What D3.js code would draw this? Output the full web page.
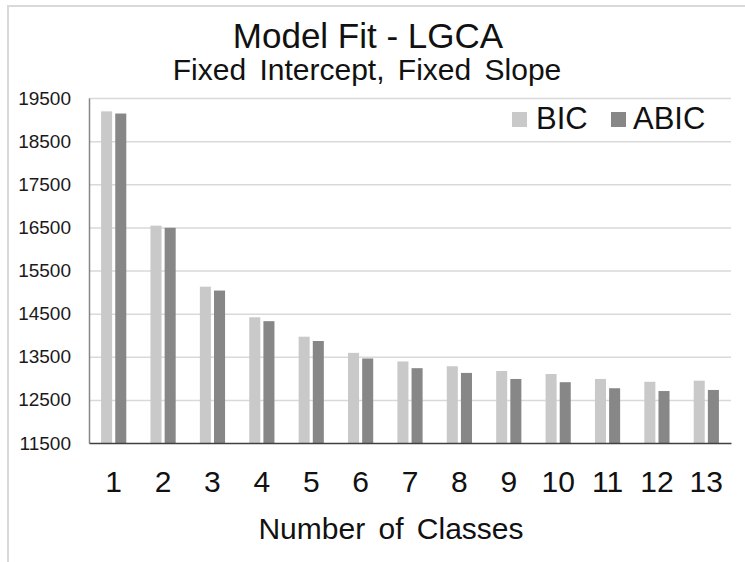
<!DOCTYPE html>
<html>
<head>
<meta charset="utf-8">
<script src="https://cdn.jsdelivr.net/npm/d3@7"></script>
<style>
  html, body { margin: 0; padding: 0; background: #fff; }
  svg { display: block; font-family: "Liberation Sans", Arial, sans-serif; }
</style>
</head>
<body>
<svg id="chart" width="745" height="562"></svg>
<script>
// Information criteria by number of latent classes
const classes = ["1", "2", "3", "4", "5", "6", "7", "8", "9", "10", "11", "12", "13"];
const bic  = [19190, 16540, 15125, 14415, 13965, 13590, 13390, 13280, 13170, 13100, 12985, 12920, 12945];
const abic = [19140, 16490, 15035, 14325, 13865, 13460, 13235, 13125, 12985, 12910, 12770, 12705, 12730];
const seriesNames = ["BIC", "ABIC"];
const seriesColors = ["#c9c9c9", "#878787"];
const yTicks = [11500, 12500, 13500, 14500, 15500, 16500, 17500, 18500, 19500];

const svg = d3.select("#chart");
const W = 745, H = 562;
const plot = { left: 89, right: 731, top: 98, bottom: 443 };

// chart-area frame (top and left edges visible)
svg.append("path")
  .attr("d", `M8,${H} L8,6 L${W},6`)
  .attr("fill", "none").attr("stroke", "#d9d9d9").attr("stroke-width", 2);

const x = d3.scaleBand().domain(classes).range([plot.left, plot.right]).padding(0);
const x1 = d3.scaleBand().domain(seriesNames).range([-12.6, 12.6]).paddingInner(0.22);
const y = d3.scaleLinear().domain([11500, 19500]).range([plot.bottom, plot.top]);
const color = d3.scaleOrdinal().domain(seriesNames).range(seriesColors);

// horizontal gridlines
const grid = svg.append("g")
  .attr("transform", `translate(${plot.left},0)`)
  .call(d3.axisLeft(y).tickValues(yTicks.slice(1)).tickSize(-(plot.right - plot.left)).tickFormat(""));
grid.select(".domain").remove();
grid.selectAll("line").attr("stroke", "#d9d9d9").attr("stroke-width", 1.5);

// bars
const rows = classes.map((c, i) => ({ cls: c, values: [bic[i], abic[i]] }));
const groups = svg.append("g").selectAll("g").data(rows).join("g")
  .attr("transform", d => `translate(${x(d.cls) + x.bandwidth() / 2},0)`);
groups.selectAll("rect")
  .data(d => d.values.map((v, j) => ({ key: seriesNames[j], value: v })))
  .join("rect")
  .attr("x", d => x1(d.key))
  .attr("width", x1.bandwidth())
  .attr("y", d => y(d.value))
  .attr("height", d => y(11500) - y(d.value))
  .attr("fill", d => color(d.key));

// y axis: line plus tick labels
const yAxis = svg.append("g")
  .attr("transform", `translate(${plot.left},0)`)
  .call(d3.axisLeft(y).tickValues(yTicks).tickSize(0).tickPadding(18).tickFormat(d3.format("d")));
yAxis.select(".domain").attr("stroke", "#868686").attr("stroke-width", 1.5);
yAxis.selectAll("text").attr("font-size", 19).attr("fill", "#1a1a1a")
  .attr("font-family", "'Liberation Sans', Arial, sans-serif");

// x axis
const xAxis = svg.append("g")
  .attr("transform", `translate(0,${plot.bottom})`)
  .call(d3.axisBottom(x).tickSize(0).tickPadding(28));
xAxis.select(".domain").attr("stroke", "#404040").attr("stroke-width", 1.5);
xAxis.selectAll("text").attr("font-size", 30).attr("fill", "#111")
  .attr("font-family", "'Liberation Sans', Arial, sans-serif");

// titles
svg.append("text").attr("x", 368).attr("y", 48).attr("text-anchor", "middle")
  .attr("font-size", 35).attr("fill", "#111").text("Model Fit - LGCA");
svg.append("text").attr("x", 367).attr("y", 80).attr("text-anchor", "middle")
  .attr("font-size", 30).attr("word-spacing", 5).attr("fill", "#111")
  .text("Fixed Intercept, Fixed Slope");
svg.append("text").attr("x", 391).attr("y", 539).attr("text-anchor", "middle")
  .attr("font-size", 30).attr("word-spacing", 5).attr("fill", "#111")
  .text("Number of Classes");

// legend
const legendPos = [{ sx: 512, tx: 536 }, { sx: 611, tx: 633 }];
const legend = svg.append("g").selectAll("g").data(seriesNames).join("g");
legend.append("rect")
  .attr("x", (d, i) => legendPos[i].sx).attr("y", 112)
  .attr("width", 15).attr("height", 15)
  .attr("fill", d => color(d));
legend.append("text")
  .attr("x", (d, i) => legendPos[i].tx).attr("y", 129)
  .attr("font-size", 31).attr("fill", "#111")
  .text(d => d);
</script>
</body>
</html>
